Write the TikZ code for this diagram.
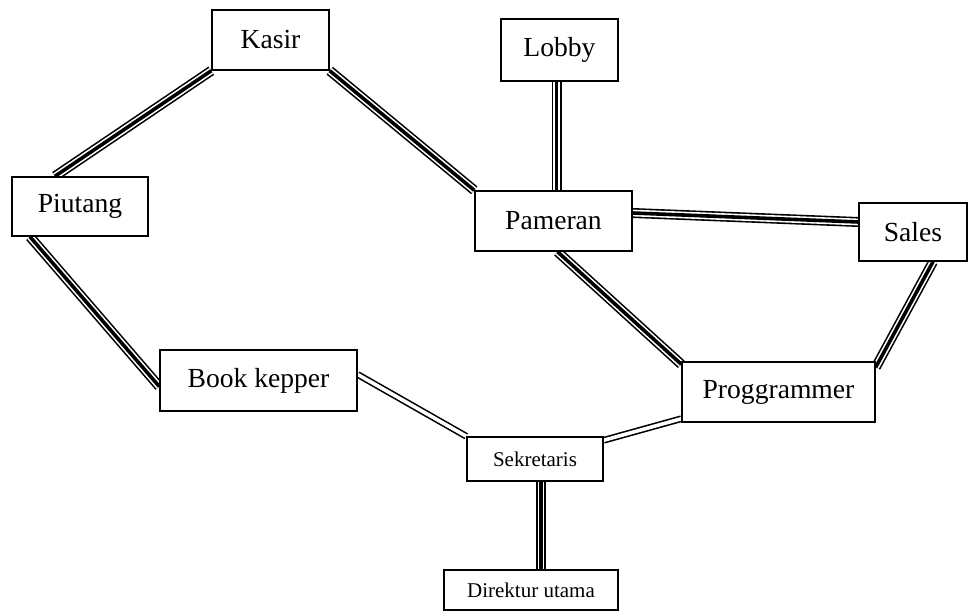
\documentclass[tikz,border=0pt]{standalone}
\usepackage{fontspec}
\setmainfont{Liberation Serif}
\usetikzlibrary{calc,backgrounds}

\tikzset{
  unitbox/.style={draw=black, line width=0.75pt, fill=white, inner sep=0pt,
    font=\fontsize{13.8}{16}\selectfont},
  smallbox/.style={unitbox, font=\fontsize{10.5}{12}\selectfont},
  % thin / thick / thin triple rail
  triple/.style={draw=black, line width=5.0pt,
    postaction={draw=white, line width=3.4pt},
    postaction={draw=black, line width=1.8pt}},
  % plain double rail
  twin/.style={draw=black, line width=3.4pt,
    postaction={draw=white, line width=1.8pt}},
}

\begin{document}
\begin{tikzpicture}[x=0.5pt, y=-0.5pt]
  \useasboundingbox (0,0) rectangle (970,614);

  % rooms
  \node[unitbox, minimum width=117*0.5pt, minimum height=60*0.5pt]  (kasir)  at (270.5,40)  {Kasir};
  \node[unitbox, minimum width=117*0.5pt, minimum height=62*0.5pt]  (lobby)  at (559.5,50)  {Lobby};
  \node[unitbox, minimum width=136*0.5pt, minimum height=59*0.5pt]  (piutang) at (80,206.5) {Piutang};
  \node[unitbox, minimum width=157*0.5pt, minimum height=60*0.5pt]  (pameran) at (553.5,221) {Pameran};
  \node[unitbox, minimum width=108*0.5pt, minimum height=58*0.5pt]  (sales)  at (913,232)   {Sales};
  \node[unitbox, minimum width=197*0.5pt, minimum height=61*0.5pt]  (book)   at (258.5,380.5) {Book kepper};
  \node[unitbox, minimum width=193*0.5pt, minimum height=60*0.5pt]  (prog)   at (778.5,392) {Proggrammer};
  \node[smallbox, minimum width=136*0.5pt, minimum height=44*0.5pt] (sekr)   at (535,459)   {Sekretaris};
  \node[smallbox, minimum width=174*0.5pt, minimum height=40*0.5pt] (dir)    at (531,590)   {Direktur utama};

  % links between rooms
  \begin{scope}[on background layer]
    \draw[triple] (kasir.south west) -- ($(piutang.north)+(-25,0)$);
    \draw[triple] (kasir.south east) -- (pameran.north west);
    \draw[triple] ($(piutang.south)+(-50,0)$) -- ($(book.west)+(0,6)$);
    \draw[twin]   ($(book.east)+(0,-6)$) -- (sekr.north west);
    \draw[triple] ($(lobby.south)+(-3,0)$) -- ($(pameran.north)+(3,0)$);
    \draw[triple] ($(pameran.east)+(0,-8)$) -- ($(sales.west)+(0,-10)$);
    \draw[triple] ($(pameran.south)+(4,0)$) -- ($(prog.north west)+(0,3)$);
    \draw[triple] ($(sales.south)+(20,0)$) -- ($(prog.north east)+(0,6)$);
    \draw[twin]   ($(sekr.north east)+(0,4)$) -- ($(prog.south west)+(0,-4)$);
    \draw[triple] ($(sekr.south)+(6,0)$) -- ($(dir.north)+(10,0)$);
  \end{scope}
\end{tikzpicture}
\end{document}
